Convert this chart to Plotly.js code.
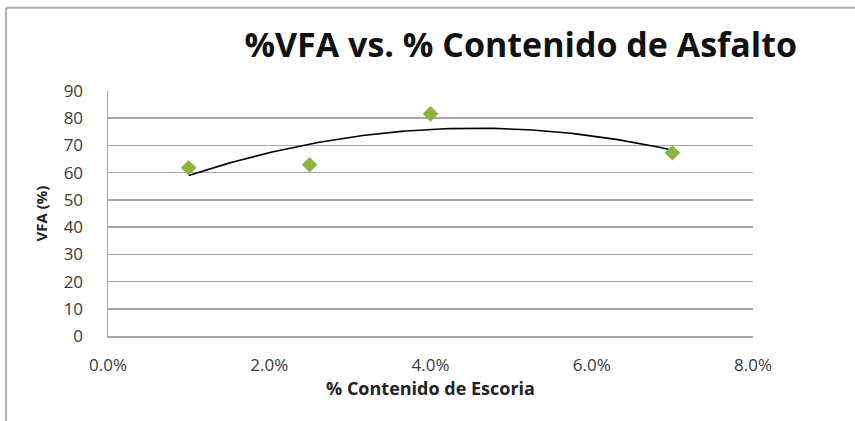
<!DOCTYPE html>
<html>
<head>
<meta charset="utf-8">
<script src="https://cdn.plot.ly/plotly-3.0.1.min.js"></script>
<style>
  html, body { margin: 0; padding: 0; background: #ffffff; }
  #chart { width: 855px; height: 421px; }
</style>
</head>
<body>
<div id="chart"></div>
<script>
// Slag content (fraction) and measured VFA (%)
const slagContent = [0.010, 0.025, 0.040, 0.070];
const vfaValues = [61.8, 62.9, 81.6, 67.3];

const xTickValues = [0, 0.02, 0.04, 0.06, 0.08];
const xTickLabels = ['0.0%', '2.0%', '4.0%', '6.0%', '8.0%'];
const yTickValues = [0, 10, 20, 30, 40, 50, 60, 70, 80, 90];

// Second-order polynomial trendline (least squares) over the measured points
function quadFit(xs, ys) {
  let s = [0, 0, 0, 0, 0], t = [0, 0, 0];
  for (let i = 0; i < xs.length; i++) {
    let p = 1;
    for (let k = 0; k < 5; k++) { s[k] += p; if (k < 3) t[k] += p * ys[i]; p *= xs[i]; }
  }
  const A = [[s[0], s[1], s[2], t[0]], [s[1], s[2], s[3], t[1]], [s[2], s[3], s[4], t[2]]];
  for (let c = 0; c < 3; c++) {
    for (let r = c + 1; r < 3; r++) {
      const f = A[r][c] / A[c][c];
      for (let k = c; k < 4; k++) A[r][k] -= f * A[c][k];
    }
  }
  const coef = [0, 0, 0];
  for (let r = 2; r >= 0; r--) {
    let v = A[r][3];
    for (let k = r + 1; k < 3; k++) v -= A[r][k] * coef[k];
    coef[r] = v / A[r][r];
  }
  return coef;
}
const coef = quadFit(slagContent, vfaValues);
const xMin = Math.min(...slagContent), xMax = Math.max(...slagContent);
const trendX = [], trendY = [];
for (let i = 0; i <= 100; i++) {
  const x = xMin + (xMax - xMin) * i / 100;
  trendX.push(x);
  trendY.push(coef[0] + coef[1] * x + coef[2] * x * x);
}

const fontFamily = '"Open Sans", "Liberation Sans", sans-serif';

const traces = [
  {
    x: trendX, y: trendY, type: 'scatter', mode: 'lines',
    line: { color: '#000000', width: 1.6 },
    hoverinfo: 'skip', showlegend: false
  },
  {
    x: slagContent, y: vfaValues, type: 'scatter', mode: 'markers',
    marker: { symbol: 'diamond', size: 12, color: '#8cb43f' },
    showlegend: false
  }
];

const layout = {
  width: 855, height: 421,
  margin: { l: 108, r: 102, t: 91, b: 85 },
  paper_bgcolor: '#ffffff', plot_bgcolor: '#ffffff',
  font: { family: fontFamily, color: '#262626' },
  title: {
    text: '<b>%VFA vs. % Contenido de Asfalto</b>',
    font: { family: fontFamily, size: 34, color: '#111111' },
    x: 0.609, xanchor: 'center', y: 0.893, yanchor: 'middle'
  },
  xaxis: {
    range: [0, 0.08],
    tickvals: xTickValues, ticktext: xTickLabels,
    showgrid: false, zeroline: false,
    showline: true, linecolor: '#a6a6a6', linewidth: 1.5,
    ticks: '', ticklabelstandoff: 13,
    tickfont: { size: 17, color: '#3a3a3a' },
    title: { text: '<b>% Contenido de Escoria</b>', font: { size: 18, color: '#222222' }, standoff: 5 }
  },
  yaxis: {
    range: [0, 90],
    tickvals: yTickValues,
    showgrid: true, gridcolor: '#a6a6a6', gridwidth: 1.5,
    zeroline: false,
    showline: true, linecolor: '#a6a6a6', linewidth: 1.5,
    ticks: '', ticklabelstandoff: 20,
    tickfont: { size: 17, color: '#3a3a3a' },
    title: { text: '<b>VFA (%)</b>', font: { size: 15, color: '#222222' }, standoff: 12 }
  },
  shapes: [
    { type: 'line', xref: 'paper', yref: 'paper', x0: -0.158, x1: 1.2, y0: 1.34, y1: 1.34,
      line: { color: '#b0b0b0', width: 2 } },
    { type: 'line', xref: 'paper', yref: 'paper', x0: -0.158, x1: -0.158, y0: -0.35, y1: 1.34,
      line: { color: '#b0b0b0', width: 2 } }
  ]
};

Plotly.newPlot('chart', traces, layout, { displayModeBar: false, staticPlot: true });
</script>
</body>
</html>
